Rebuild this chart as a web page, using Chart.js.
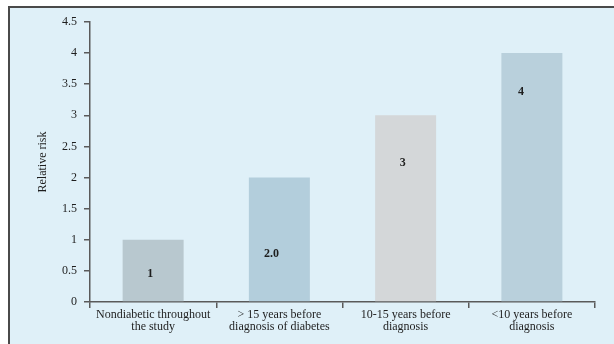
<!DOCTYPE html>
<html>
<head>
<meta charset="utf-8">
<script src="https://cdn.jsdelivr.net/npm/chart.js@4.4.1/dist/chart.umd.min.js"></script>
<style>
  html, body { margin: 0; padding: 0; background: #fff; }
  canvas { display: block; }
</style>
</head>
<body>
<canvas id="risk-chart" width="614" height="344"></canvas>
<script>
// Data
const categories = [
  ["Nondiabetic throughout", "the study"],
  ["> 15 years before", "diagnosis of diabetes"],
  ["10-15 years before", "diagnosis"],
  ["<10 years before", "diagnosis"],
];
const relativeRisk = [1, 2, 3, 4];
const valueLabels = ["1", "2.0", "3", "4"];
const yTicks = [0, 0.5, 1, 1.5, 2, 2.5, 3, 3.5, 4, 4.5];

const barColors = ["#b8c8cf", "#b3cedc", "#d4d7d9", "#b9d0dc"];
const axisColor = "#5a5a5a";
const textColor = "#1e1e1e";
const serif = "'Liberation Serif', 'DejaVu Serif', serif";

// background panel with dark top/left frame
const framePlugin = {
  id: "frame",
  beforeDraw(chart) {
    const ctx = chart.ctx;
    ctx.save();
    ctx.fillStyle = "#dff0f8";
    ctx.fillRect(8, 7, chart.width - 8, chart.height - 7);
    ctx.fillStyle = "#4a4a4a";
    ctx.fillRect(8, 6, chart.width - 8, 2);
    ctx.fillRect(8, 6, 2, chart.height - 6);
    ctx.restore();
  },
};

// value written inside each bar
const barLabelPlugin = {
  id: "barLabels",
  afterDatasetsDraw(chart, args, opts) {
    const ctx = chart.ctx;
    const meta = chart.getDatasetMeta(0);
    const y = chart.scales.y;
    ctx.save();
    ctx.font = "bold 12px " + serif;
    ctx.fillStyle = textColor;
    ctx.textAlign = "center";
    ctx.textBaseline = "middle";
    meta.data.forEach((bar, i) => {
      ctx.fillText(valueLabels[i], bar.x + opts.shift[i], y.getPixelForValue(opts.at[i]));
    });
    ctx.restore();
  },
};

const canvas = document.getElementById("risk-chart");
new Chart(canvas, {
  type: "bar",
  data: {
    labels: categories,
    datasets: [
      {
        data: relativeRisk,
        backgroundColor: barColors,
        borderWidth: 0,
        categoryPercentage: 1,
        barPercentage: 0.483,
      },
    ],
  },
  options: {
    responsive: false,
    animation: false,
    devicePixelRatio: 1,
    layout: { padding: { left: 0, right: 19, top: 22, bottom: 0 } },
    plugins: {
      legend: { display: false },
      tooltip: { enabled: false },
      barLabels: {
        at: [0.45, 0.78, 2.23, 3.37],
        shift: [-3, -8, -3, -11],
      },
    },
    scales: {
      x: {
        afterFit: (s) => { s.height = 42; },
        grid: {
          offset: true,
          drawOnChartArea: false,
          drawTicks: true,
          tickLength: 6,
          tickColor: axisColor,
          lineWidth: 1.5,
        },
        border: { display: true, color: axisColor, width: 1.5 },
        ticks: {
          color: textColor,
          padding: 1,
          maxRotation: 0,
          autoSkip: false,
          font: { family: serif, size: 12, lineHeight: 1 },
        },
      },
      y: {
        min: 0,
        max: 4.5,
        afterFit: (s) => { s.width = 90; },
        afterBuildTicks: (s) => { s.ticks = yTicks.map((v) => ({ value: v })); },
        grid: {
          drawOnChartArea: false,
          drawTicks: true,
          tickLength: 6,
          tickColor: axisColor,
          lineWidth: 1.5,
        },
        border: { display: true, color: axisColor, width: 1.5 },
        ticks: {
          color: textColor,
          padding: 7,
          callback: (v) => String(v),
          font: { family: serif, size: 12 },
        },
        title: {
          display: true,
          text: "Relative risk",
          color: textColor,
          padding: { top: 36, bottom: 0 },
          font: { family: serif, size: 12 },
        },
      },
    },
  },
  plugins: [framePlugin, barLabelPlugin],
});
</script>
</body>
</html>
